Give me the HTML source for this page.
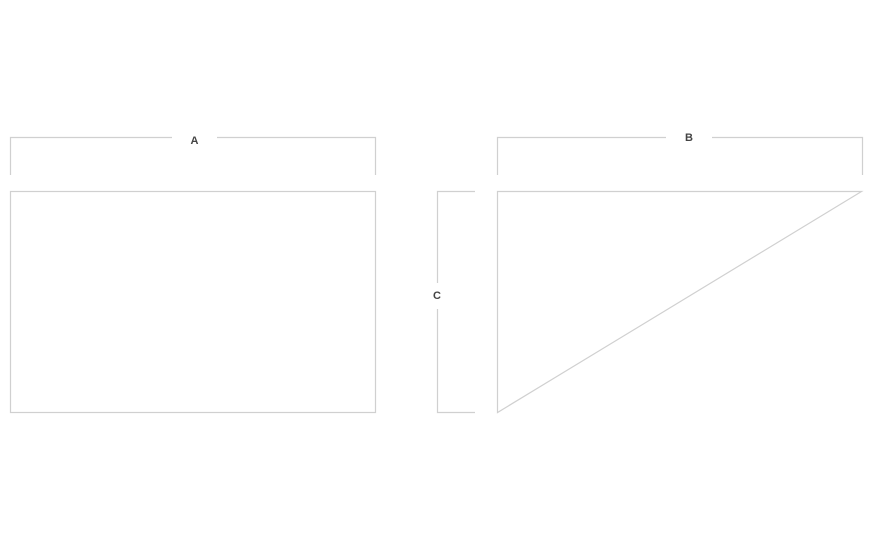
<!DOCTYPE html>
<html><head><style>html,body{margin:0;padding:0;background:#fff;width:876px;height:533px;overflow:hidden}</style></head>
<body>
<svg width="876" height="533" xmlns="http://www.w3.org/2000/svg">
<g stroke="#d0d0d0" stroke-width="1.2" fill="none">
<path d="M10.5 175V137.5H172M217 137.5H375.5V175"/>
<rect x="10.5" y="191.5" width="365" height="221"/>
<path d="M497.5 175V137.5H666M712 137.5H862.5V175"/>
<path d="M475 191.5H437.5V283M437.5 309V412.5H475"/>
<path d="M497.5 191.5H861.5L497.5 412.5Z"/>
</g>
<g font-family="Liberation Sans, sans-serif" font-size="11" font-weight="bold" fill="#444" text-anchor="middle">
<text x="194.5" y="144">A</text>
<text x="689" y="141">B</text>
<text x="437" y="299">C</text>
</g>
</svg>
</body></html>
